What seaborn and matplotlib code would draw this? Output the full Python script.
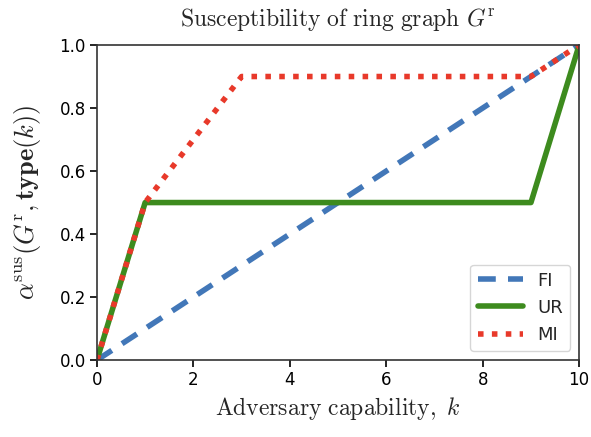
import matplotlib
matplotlib.use('Agg')
import matplotlib.pyplot as plt
import seaborn as sns
import pandas as pd

sns.set_style('ticks')
plt.rcParams['font.family'] = ['DejaVu Sans']
plt.rcParams['mathtext.fontset'] = 'cm'

# 데이터
k_fi = [0, 10]
fi = [0.0, 1.0]
k_ur = [0, 1, 9, 10]
ur = [0.0, 0.5, 0.5, 1.0]
k_mi = [0, 1, 3, 9, 10]
mi = [0.0, 0.5, 0.9, 0.9, 1.0]

fig, ax = plt.subplots(figsize=(5.91, 4.37), dpi=100)
sns.lineplot(x=k_fi, y=fi, ax=ax, color='#4277b8', lw=4, linestyle=(0, (3.2, 2.2)), label='FI')
sns.lineplot(x=k_ur, y=ur, ax=ax, color='#3d8b1e', lw=4, label='UR')
sns.lineplot(x=k_mi, y=mi, ax=ax, color='#e8392a', lw=4, linestyle=(0, (1, 1.5)), label='MI')

ax.set_xlim(0, 10)
ax.set_ylim(0, 1)
ax.set_xticks([0, 2, 4, 6, 8, 10])
ax.set_yticks([0.0, 0.2, 0.4, 0.6, 0.8, 1.0])
ax.tick_params(labelsize=12, direction='out', length=5, width=1.2, colors='black', pad=3)
for s in ax.spines.values():
    s.set_visible(True)
    s.set_linewidth(1.2)
    s.set_color('#333333')

ax.set_title(r'$\mathrm{Susceptibility\ of\ ring\ graph}\ G^{\mathrm{r}}$', fontsize=17, pad=14)
ax.set_xlabel(r'$\mathrm{Adversary\ capability,}\ k$', fontsize=17, labelpad=4)
ax.set_ylabel(r'$\alpha^{\mathrm{sus}}(G^{\mathrm{r}},\mathbf{type}(k))$', fontsize=19, labelpad=12)

leg = ax.legend(loc='lower right', fontsize=13, handlelength=2.5, frameon=True)

plt.subplots_adjust(left=0.164, right=0.98, top=0.897, bottom=0.176)
plt.savefig('out.png')
